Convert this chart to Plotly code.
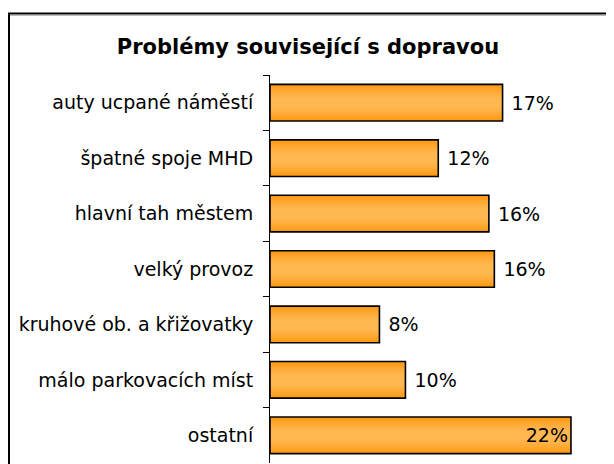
import plotly.graph_objects as go

categories = [
    "auty ucpané náměstí",
    "špatné spoje MHD",
    "hlavní tah městem",
    "velký provoz",
    "kruhové ob. a křižovatky",
    "málo parkovacích míst",
    "ostatní",
]
values = [17.0, 12.3, 16.0, 16.4, 8.0, 9.9, 22.0]
title_text = "Problémy související s dopravou"

W, H = 614, 464
OFF = 8  # page body margin: figure is drawn at page (8, 8)

# plot area in page pixels
PX0, PX1, PY0, PY1 = 270, 575, 75, 463
ML, MR = PX0 - OFF, W - (PX1 - OFF)
MT, MB = PY0 - OFF, H - (PY1 - OFF)
PW, PH = PX1 - PX0, PY1 - PY0

def px_x(px):
    return (px - PX0) / PW

def px_y(py):
    return (PY1 - py) / PH

FONT = "DejaVu Sans"
FS = 19
fig = go.Figure()

grad = [
    (0.66, "#FF9A14"),
    (0.58, "#FFA021"),
    (0.50, "#FFA62D"),
    (0.42, "#FFAB38"),
    (0.34, "#FFB042"),
    (0.26, "#FFB44A"),
    (0.18, "#FFB750"),
]
for w, c in grad:
    fig.add_trace(go.Bar(
        y=categories, x=values, orientation="h", width=w,
        marker=dict(color=c, line=dict(width=0)),
        hoverinfo="skip", showlegend=False,
    ))

labels = []
positions = []
for i, v in enumerate(values):
    if i == len(values) - 1:
        labels.append(f"{round(v)}%")
        positions.append("inside")
    else:
        labels.append(f" {round(v)}%")
        positions.append("outside")

fig.add_trace(go.Bar(
    y=categories, x=values, orientation="h", width=0.66,
    marker=dict(color="rgba(0,0,0,0)", line=dict(color="black", width=1.6)),
    text=labels, textposition=positions, insidetextanchor="end",
    textfont=dict(family=FONT, size=FS, color="black"),
    insidetextfont=dict(family=FONT, size=FS, color="black"),
    outsidetextfont=dict(family=FONT, size=FS, color="black"),
    cliponaxis=False, showlegend=False,
))

fig.update_layout(
    width=W, height=H,
    margin=dict(l=ML, r=MR, t=MT, b=MB),
    barmode="overlay",
    plot_bgcolor="white", paper_bgcolor="white",
    title=dict(text=f"<b>{title_text}</b>", x=(308 - OFF) / W, xref="container", xanchor="center",
               y=1 - (47 - OFF) / H, yref="container", yanchor="middle",
               font=dict(family=FONT, size=21, color="black")),
    xaxis=dict(range=[0, PW / 13.68], showgrid=False, showticklabels=False,
               showline=False, zeroline=False, ticks=""),
    yaxis=dict(categoryorder="array", categoryarray=categories,
               range=[len(categories) - 0.5, -0.5],
               showline=True, linecolor="black", linewidth=1,
               ticks="outside", ticklen=6, tickcolor="black", tickwidth=1,
               tickson="boundaries", showgrid=False, zeroline=False,
               ticklabelstandoff=12,
               tickfont=dict(family=FONT, size=FS, color="black")),
    shapes=[
        dict(type="line", xref="paper", yref="paper",
             x0=px_x(9), x1=px_x(640), y0=px_y(15.5), y1=px_y(15.5),
             line=dict(color="#BBBBBB", width=1), layer="above"),
        dict(type="rect", xref="paper", yref="paper",
             x0=px_x(9), x1=px_x(660), y0=px_y(13.5), y1=px_y(500),
             line=dict(color="black", width=2), layer="above"),
    ],
)

fig.write_html("out.html")
